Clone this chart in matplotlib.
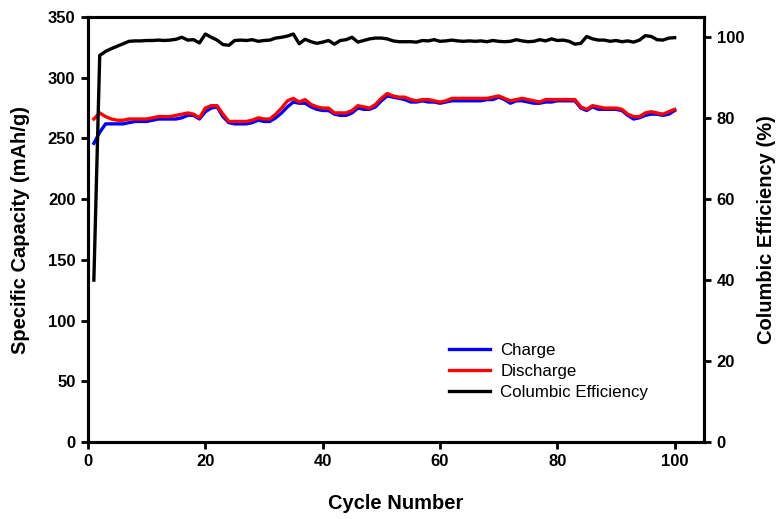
import matplotlib.pyplot as plt

# cycle data: capacities in mAh/g, efficiency in %
cycles = list(range(1, 101))

discharge = [
    266, 271, 268, 266, 265, 265, 266, 266, 266, 266,
    267, 268, 268, 268, 269, 270, 271, 270, 267, 275,
    277, 277, 270, 264, 264, 264, 264, 265, 267, 266,
    266, 270, 275, 281, 283, 280, 282, 278, 276, 275,
    275, 271, 271, 271, 273, 277, 276, 275, 278, 283,
    287, 285, 284, 284, 282, 281, 282, 282, 281, 280,
    281, 283, 283, 283, 283, 283, 283, 283, 284, 285,
    283, 281, 282, 283, 282, 281, 280, 282, 282, 282,
    282, 282, 282, 276, 274, 277, 276, 275, 275, 275,
    274, 270, 268, 268, 271, 272, 271, 270, 272, 274,
]

charge = [
    246, 255, 262, 262, 262, 262, 263, 264, 264, 264,
    265, 266, 266, 266, 266, 267, 269, 269, 266, 272,
    275, 276, 268, 263, 262, 262, 262, 263, 265, 264,
    264, 267, 271, 276, 280, 279, 279, 276, 274, 273,
    273, 270, 269, 269, 271, 275, 274, 274, 276, 281,
    285, 284, 283, 282, 280, 280, 281, 280, 280, 279,
    280, 281, 281, 281, 281, 281, 281, 282, 282, 284,
    282, 279, 281, 281, 280, 279, 279, 280, 280, 281,
    281, 281, 281, 275, 273, 276, 274, 274, 274, 274,
    273, 269, 266, 267, 269, 270, 270, 269, 270, 273,
]

efficiency = [
    40.0, 95.5, 96.5, 97.2, 97.8, 98.4, 99.0, 99.1, 99.1, 99.2,
    99.2, 99.3, 99.2, 99.3, 99.5, 100.0, 99.3, 99.4, 98.6, 100.8,
    100.0, 99.3, 98.2, 98.0, 99.2, 99.3, 99.2, 99.4, 99.0, 99.2,
    99.3, 99.8, 100.0, 100.3, 100.8, 98.4, 99.5, 98.9, 98.5, 98.8,
    99.2, 98.3, 99.2, 99.4, 100.0, 98.8, 99.2, 99.6, 99.8, 99.8,
    99.6, 99.1, 98.9, 98.9, 98.9, 98.8, 99.2, 99.1, 99.4, 99.0,
    99.1, 99.3, 99.1, 99.0, 99.1, 99.0, 99.1, 98.9, 99.2, 99.0,
    98.9, 99.0, 99.4, 99.1, 98.9, 99.0, 99.4, 99.1, 99.6, 99.2,
    99.3, 99.0, 98.3, 98.5, 100.2, 99.6, 99.3, 99.3, 99.0, 99.2,
    98.9, 99.1, 98.8, 99.3, 100.4, 100.2, 99.4, 99.3, 99.8, 99.9,
]

x_ticks = [0, 20, 40, 60, 80, 100]
cap_ticks = [0, 50, 100, 150, 200, 250, 300, 350]
eff_ticks = [0, 20, 40, 60, 80, 100]

plt.rcParams['font.family'] = ['Liberation Sans', 'DejaVu Sans']

fig = plt.figure(figsize=(7.78, 5.19), dpi=100)
ax = fig.add_axes([0.1131, 0.1484, 0.7918, 0.8188])
ax2 = ax.twinx()

ax.plot(cycles, charge, color='#0000ff', lw=2.4, label='Charge')
ax.plot(cycles, discharge, color='#ff0000', lw=2.4, label='Discharge')
ax2.plot(cycles, efficiency, color='black', lw=2.4, label='Columbic Efficiency')

ax.set_xlim(0, 105)
ax.set_ylim(0, 350)
ax2.set_ylim(0, 105)
ax.set_xticks(x_ticks)
ax.set_yticks(cap_ticks)
ax2.set_yticks(eff_ticks)

for a in (ax, ax2):
    for s in a.spines.values():
        s.set_linewidth(2.2)
    a.tick_params(direction='out', length=5, width=2, labelsize=12, pad=4)
    for lab in a.get_xticklabels() + a.get_yticklabels():
        lab.set_fontweight('bold')

ax.set_xlabel('Cycle Number', fontsize=14.5, fontweight='bold', labelpad=18)
ax.set_ylabel('Specific Capacity (mAh/g)', fontsize=14.5, fontweight='bold', labelpad=13)
ax2.set_ylabel('Columbic Efficiency (%)', fontsize=14.5, fontweight='bold', labelpad=9)

lines = ax.get_lines() + ax2.get_lines()
ax2.legend(lines, [l.get_label() for l in lines], loc='lower left',
           bbox_to_anchor=(0.562, 0.062), frameon=False, fontsize=12.2,
           handlelength=2.4, handletextpad=0.6, labelspacing=0.36)

fig.savefig('out.png', dpi=100)
